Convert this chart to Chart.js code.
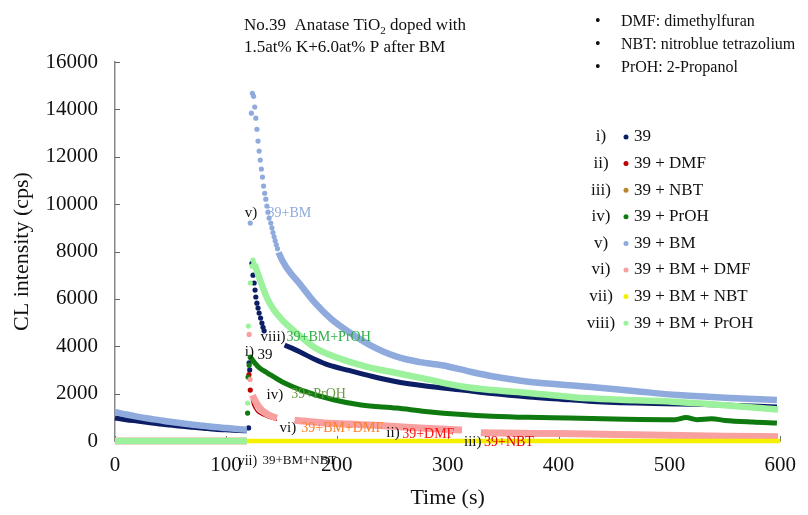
<!DOCTYPE html>
<html>
<head>
<meta charset="utf-8">
<script src="https://cdn.jsdelivr.net/npm/chart.js@4.4.0/dist/chart.umd.min.js"></script>
<style>
  html, body { margin: 0; padding: 0; background: #fff; }
</style>
</head>
<body>
<canvas id="clChart" width="808" height="515"></canvas>
<script>
// CL intensity decay, time (s) vs intensity (cps)
const roman = ['i)', 'ii)', 'iii)', 'iv)', 'v)', 'vi)', 'vii)', 'viii)'];
const names = ['39', '39 + DMF', '39 + NBT', '39 + PrOH', '39 + BM', '39 + BM + DMF', '39 + BM + NBT', '39 + BM + PrOH'];
const colors = ['#0c1f66', '#c00000', '#b8862e', '#0f7a0f', '#8faadc', '#f8a0a0', '#f5f000', '#9cf29c'];
const widths = [5, 1.5, 2, 5, 6.5, 7, 4.5, 6.5];
// points before 119.5 s and after dotsUntil are joined as a line, the rest are single dots
// (-1 = plain line all the way)
const dotsUntil = [140, 123, -1, 122.4, 147.5, 124, -1, 126];

const xTicks = [0, 100, 200, 300, 400, 500, 600];
const yTicks = [0, 2000, 4000, 6000, 8000, 10000, 12000, 14000, 16000];

const s39 = [
  [0, 970], [10, 900], [20, 840], [30, 780], [40, 720], [50, 670], [60, 620], [70, 580],
  [80, 540], [90, 500], [100, 470], [110, 445], [119, 430],
  [120.5, 550], [121, 3300], [121.5, 3000], [123.5, 7500], [124.5, 7000], [125.5, 6670],
  [126.3, 6370], [127, 6080], [128, 5820], [129, 5610], [130, 5400], [131.3, 5190],
  [132.5, 4980], [133.5, 4800], [134.5, 4650], [140, null],
  [153, 4050], [166, 3780], [180, 3450], [193, 3200], [211, 2980], [230, 2750], [254, 2500],
  [280, 2320], [313, 2150], [340, 2000], [373, 1860], [410, 1740], [427, 1680], [470, 1600],
  [508, 1560], [547, 1520], [597, 1440]
];
const s39Dmf = [
  [0, 0], [60, 0], [119, 0],
  [120.8, 2800], [122, 2150],
  [123, 1750], [126, 1350], [130, 1150], [140, 950], [146, 880], [150, null],
  [162, 800], [211, 640], [250, 560], [313, 400], [320, null],
  [330, 300], [427, 230], [510, 170], [598, 110]
];
const s39Nbt = [[0, 0], [300, 0], [600, 0]];
const s39Proh = [
  [0, 0], [60, 0], [119, 0],
  [119.6, 1180], [120, 2700], [121, 3200], [122, 3540],
  [122.4, 3520], [126, 3300], [130, 3100], [137.6, 2870], [151, 2490], [168, 2150],
  [198, 1730], [222, 1520], [254, 1390], [280, 1250], [313, 1120], [340, 1050], [373, 1000],
  [409, 970], [460, 920], [505, 900], [515, 990], [525, 900], [538, 940], [550, 870],
  [575, 800], [597, 760]
];
const s39Bm = [
  [0, 1220], [10, 1120], [20, 1030], [30, 950], [40, 880], [50, 810], [60, 750], [70, 690],
  [80, 640], [90, 590], [100, 550], [110, 510], [119, 480],
  [122, 9200], [123, 13840], [123.9, 14680], [125, 14550], [126, 14100], [127, 13630],
  [128, 13160], [129, 12660], [130, 12240], [131, 11860], [132, 11480], [133, 11140],
  [134, 10760], [135, 10460], [136, 10210], [137, 9920], [138, 9660], [139, 9410],
  [140.5, 9200], [141.5, 9000], [142.5, 8800], [143.5, 8620], [144.5, 8450], [145.5, 8280],
  [146.5, 8120],
  [147.5, 7960], [155, 7300], [166, 6670], [180, 5850], [195, 5150], [211, 4600], [230, 4050],
  [254, 3560], [275, 3330], [295, 3200], [320, 2930], [343, 2710], [373, 2500], [427, 2290],
  [470, 2100], [508, 1940], [550, 1830], [597, 1730]
];
const s39BmDmf = [
  [0, 0], [60, 0], [119, 0],
  [121, 4500], [121.8, 2600],
  [124, 1940], [127, 1650], [130, 1430], [135, 1200], [140, 1070], [146, 970], [150, null],
  [162, 880], [193, 750], [211, 720], [250, 620], [280, 540], [313, 460], [320, null],
  [330, 350], [380, 320], [427, 300], [470, 260], [510, 230], [550, 200], [598, 180]
];
const s39BmNbt = [[0, 0], [300, 0], [600, 0]];
const s39BmProh = [
  [0, 0], [60, 0], [119, 0],
  [119.6, 1600], [120.3, 4850], [122, 6670], [123.6, 7380], [124.4, 7640], [125.3, 7500],
  [126, 7450], [127.7, 7220], [132, 6650], [136.7, 6080], [143, 5550], [151, 5100],
  [166, 4470], [180, 3950], [193, 3650], [211, 3350], [230, 3100], [254, 2870], [280, 2620],
  [313, 2300], [340, 2150], [373, 2030], [427, 1800], [470, 1720], [508, 1650], [547, 1520],
  [598, 1330]
];
const allSeries = [s39, s39Dmf, s39Nbt, s39Proh, s39Bm, s39BmDmf, s39BmNbt, s39BmProh];

// in-plot labels, placed in axis units
const tags = [
  { t: 117, v: 9620, text: 'v)', color: '#111', size: 15 },
  { t: 137.6, v: 9620, text: '39+BM', color: '#8faadc', size: 14 },
  { t: 131.3, v: 4390, text: 'viii)', color: '#111', size: 15 },
  { t: 154.7, v: 4390, text: '39+BM+PrOH', color: '#2fae46', size: 14 },
  { t: 117, v: 3755, text: 'i)', color: '#111', size: 15 },
  { t: 128.6, v: 3630, text: '39', color: '#111', size: 15 },
  { t: 136.7, v: 1940, text: 'iv)', color: '#111', size: 15 },
  { t: 159, v: 1980, text: '39+PrOH', color: '#6a9a44', size: 14 },
  { t: 148.4, v: 550, text: 'vi)', color: '#111', size: 15 },
  { t: 168, v: 550, text: '39+BM+DMF', color: '#ff7f27', size: 14 },
  { t: 244.7, v: 340, text: 'ii)', color: '#111', size: 15 },
  { t: 259, v: 300, text: '39+DMF', color: '#ff1010', size: 14 },
  { t: 314.8, v: -40, text: 'iii)', color: '#111', size: 15 },
  { t: 332.8, v: -40, text: '39+NBT', color: '#e00000', size: 14 },
  { t: 110.6, v: -840, text: 'vii)', color: '#111', size: 14 },
  { t: 133, v: -840, text: '39+BM+NBT', color: '#111', size: 13 }
];

const notes = ['DMF: dimethylfuran', 'NBT: nitroblue tetrazolium', 'PrOH: 2-Propanol'];

const serif = "'Liberation Serif', 'Times New Roman', serif";

const datasets = allSeries.map(function (rows, i) {
  const cut = dotsUntil[i];
  return {
    label: names[i],
    data: rows.map(function (r) { return { x: r[0], y: r[1] }; }),
    borderColor: colors[i],
    backgroundColor: colors[i],
    borderWidth: widths[i],
    pointBackgroundColor: colors[i],
    pointBorderWidth: 0,
    pointRadius: function (ctx) {
      const x = ctx.raw ? ctx.raw.x : 0;
      return (x > 119.5 && x < cut) ? 2.6 : 0;
    },
    pointHoverRadius: 0,
    cubicInterpolationMode: 'monotone',
    spanGaps: false,
    clip: false,
    order: 8 - i,
    segment: {
      borderColor: function (ctx) {
        const a = ctx.p0.parsed.x, b = ctx.p1.parsed.x;
        return (b <= 119.5 || a >= cut) ? undefined : 'rgba(0,0,0,0)';
      }
    }
  };
});

const decor = {
  id: 'decor',
  beforeDatasetsDraw(chart) {
    const c = chart.ctx, xs = chart.scales.x, ys = chart.scales.y;
    const a = chart.chartArea;
    c.save();
    c.strokeStyle = '#666';
    c.lineWidth = 1;
    yTicks.forEach(function (v) {
      const y = Math.round(ys.getPixelForValue(v)) + 0.5;
      c.beginPath(); c.moveTo(a.left, y); c.lineTo(a.left + 5, y); c.stroke();
    });
    xTicks.forEach(function (t) {
      const x = Math.round(xs.getPixelForValue(t)) + 0.5;
      c.beginPath(); c.moveTo(x, a.bottom); c.lineTo(x, a.bottom - 5); c.stroke();
    });
    c.restore();
  },
  afterDraw(chart) {
    const c = chart.ctx, xs = chart.scales.x, ys = chart.scales.y;
    c.save();
    c.textBaseline = 'middle';
    // labels beside the curves
    tags.forEach(function (g) {
      c.font = g.size + 'px ' + serif;
      c.fillStyle = g.color;
      c.textAlign = 'left';
      c.fillText(g.text, xs.getPixelForValue(g.t), ys.getPixelForValue(g.v));
    });

    // heading
    c.fillStyle = '#111';
    c.font = '17px ' + serif;
    c.textBaseline = 'alphabetic';
    let x = 244;
    const part1 = 'No.39  Anatase TiO';
    c.fillText(part1, x, 30);
    x += c.measureText(part1).width;
    c.font = '11px ' + serif;
    c.fillText('2', x, 34);
    x += c.measureText('2').width;
    c.font = '17px ' + serif;
    c.fillText(' doped with', x, 30);
    c.fillText('1.5at% K+6.0at% P after BM', 244, 52);

    // abbreviations
    c.font = '16px ' + serif;
    notes.forEach(function (n, i) {
      const y = 26 + i * 23;
      c.fillText('\u2022', 595, y);
      c.fillText(n, 621, y);
    });

    // series key
    c.textBaseline = 'middle';
    c.font = '17px ' + serif;
    names.forEach(function (n, i) {
      const y = 137 + i * 26.6;
      c.fillStyle = '#111';
      c.textAlign = 'center';
      c.fillText(roman[i], 601, y);
      c.textAlign = 'left';
      c.fillText(n, 634, y);
      c.fillStyle = colors[i];
      c.beginPath(); c.arc(626, y, 2.5, 0, Math.PI * 2); c.fill();
    });
    c.restore();
  }
};

const chart = new Chart(document.getElementById('clChart').getContext('2d'), {
  type: 'line',
  data: { datasets: datasets },
  options: {
    responsive: false,
    animation: false,
    events: [],
    layout: { padding: { top: 62, right: 26, left: 0, bottom: 0 } },
    plugins: { legend: { display: false }, tooltip: { enabled: false } },
    scales: {
      x: {
        type: 'linear', min: 0, max: 600,
        afterFit: function (s) { s.height = 74; },
        afterBuildTicks: function (s) { s.ticks = xTicks.map(function (v) { return { value: v }; }); },
        grid: { display: false, drawTicks: false },
        border: { display: true, color: '#888', width: 1.5 },
        ticks: {
          color: '#111', padding: 12, font: { family: serif, size: 21 }, maxRotation: 0,
          callback: function (v) { return String(v); }
        },
        title: { display: true, text: 'Time (s)', color: '#111', font: { family: serif, size: 22 }, padding: { top: 0, bottom: 4 } }
      },
      y: {
        type: 'linear', min: 0, max: 16000,
        afterFit: function (s) { s.width = 115; },
        afterBuildTicks: function (s) { s.ticks = yTicks.map(function (v) { return { value: v }; }); },
        grid: { display: false, drawTicks: false },
        border: { display: true, color: '#888', width: 1.5 },
        ticks: {
          color: '#111', padding: 17, font: { family: serif, size: 21 },
          callback: function (v) { return String(v); }
        },
        title: { display: true, text: 'CL intensity (cps)', color: '#111', font: { family: serif, size: 22 }, padding: { top: 9, bottom: 0 } }
      }
    }
  },
  plugins: [decor]
});
</script>
</body>
</html>
